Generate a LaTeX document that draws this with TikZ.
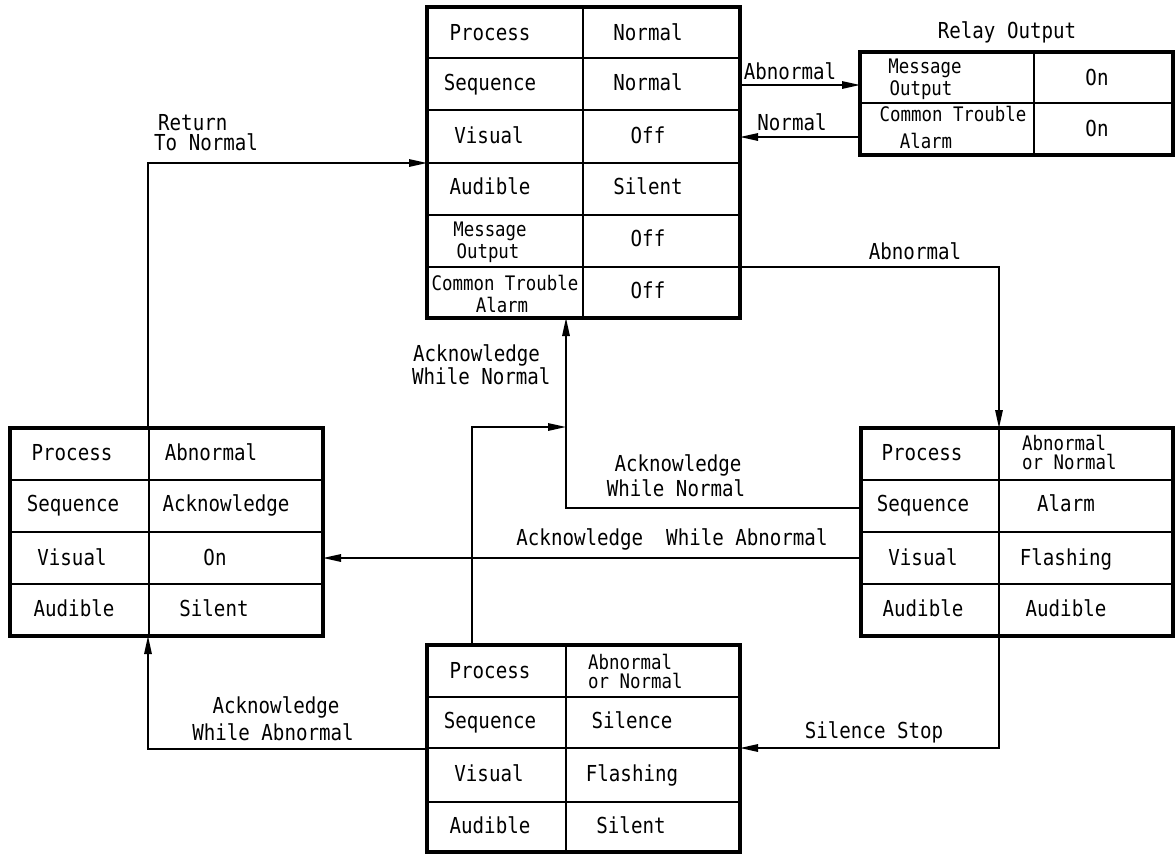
\documentclass[tikz,border=0pt]{standalone}
\usepackage{fontspec}
\setmainfont{DejaVu Sans Mono}[FakeStretch=0.87]
\usetikzlibrary{arrows.meta}
\begin{document}
\begin{tikzpicture}[x=1pt,y=-1pt,
  tbl/.style={draw, line width=3.4pt, inner sep=0pt, outer sep=0pt},
  cell/.style={line width=1.3pt},
  conn/.style={line width=1.5pt},
  arr/.style={conn, -{Triangle[length=18pt,width=7.5pt]}},
  t/.style={font=\fontsize{22}{22}\selectfont, inner sep=0pt, text height=16pt, text depth=0pt},
  ts/.style={font=\fontsize{20}{20}\selectfont, inner sep=0pt, text height=14.6pt, text depth=0pt}]
\useasboundingbox (0,0) rectangle (1176,855);

% ---------- inner grid lines ----------
\draw[cell] (583,7) -- (583,318);
\foreach \y in {58,110,163,215,267} \draw[cell] (427,\y) -- (740,\y);
\draw[cell] (1034,52) -- (1034,155);
\draw[cell] (860,103) -- (1173,103);
\draw[cell] (149,428) -- (149,636);
\foreach \y in {480,532,584} \draw[cell] (10,\y) -- (323,\y);
\draw[cell] (999,428) -- (999,636);
\foreach \y in {480,532,584} \draw[cell] (861,\y) -- (1173,\y);
\draw[cell] (566,645) -- (566,852);
\foreach \y in {697,748,802} \draw[cell] (427,\y) -- (740,\y);

% ---------- tables ----------
\node[tbl, minimum width=313pt, minimum height=311pt] (T) at (583.5,162.5) {};
\node[tbl, minimum width=313pt, minimum height=103pt] (R) at (1016.5,103.5) {};
\node[tbl, minimum width=313pt, minimum height=208pt] (L) at (166.5,532) {};
\node[tbl, minimum width=312pt, minimum height=208pt] (Rt) at (1017,532) {};
\node[tbl, minimum width=313pt, minimum height=207pt] (B) at (583.5,748.5) {};

% ---------- top table text ----------
\node[t] (t1a) at (490,32) {Process};
\node[t] (t1b) at (648,32) {Normal};
\node[t] (t2a) at (490,82) {Sequence};
\node[t] (t2b) at (648,82) {Normal};
\node[t] (t3a) at (489,135) {Visual};
\node[t] (t3b) at (648,135) {Off};
\node[t] (t4a) at (490,186) {Audible};
\node[t] (t4b) at (648,186) {Silent};
\node[ts] (t5a) at (490,229) {Message};
\node[ts] (t5c) at (488,251) {Output};
\node[t] (t5b) at (648,238) {Off};
\node[ts] (t6a) at (505,283) {Common Trouble};
\node[ts] (t6c) at (502,305) {Alarm};
\node[t] (t6b) at (648,290) {Off};

% ---------- relay table ----------
\node[t] (rtitle) at (1007,30) {Relay Output};
\node[ts] (r1a) at (925,66) {Message};
\node[ts] (r1c) at (921,88) {Output};
\node[t] (r1b) at (1097,77) {On};
\node[ts] (r2a) at (953,114) {Common Trouble};
\node[ts] (r2c) at (926,141) {Alarm};
\node[t] (r2b) at (1097,128) {On};

% ---------- left table ----------
\node[t] (l1a) at (72,452) {Process};
\node[t] (l1b) at (211,452) {Abnormal};
\node[t] (l2a) at (73,503) {Sequence};
\node[t] (l2b) at (226,503) {Acknowledge};
\node[t] (l3a) at (72,557) {Visual};
\node[t] (l3b) at (215,557) {On};
\node[t] (l4a) at (74,608) {Audible};
\node[t] (l4b) at (214,608) {Silent};

% ---------- right table ----------
\node[t] (q1a) at (922,452) {Process};
\node[ts, anchor=west] (q1b) at (1022,443) {Abnormal};
\node[ts, anchor=west] (q1c) at (1022,462) {or Normal};
\node[t] (q2a) at (923,503) {Sequence};
\node[t] (q2b) at (1066,503) {Alarm};
\node[t] (q3a) at (923,557) {Visual};
\node[t] (q3b) at (1066,557) {Flashing};
\node[t] (q4a) at (923,608) {Audible};
\node[t] (q4b) at (1066,608) {Audible};

% ---------- bottom table ----------
\node[t] (b1a) at (490,670) {Process};
\node[ts, anchor=west] (b1b) at (588,662) {Abnormal};
\node[ts, anchor=west] (b1c) at (588,681) {or Normal};
\node[t] (b2a) at (490,720) {Sequence};
\node[t] (b2b) at (632,720) {Silence};
\node[t] (b3a) at (489,773) {Visual};
\node[t] (b3b) at (632,773) {Flashing};
\node[t] (b4a) at (490,825) {Audible};
\node[t] (b4b) at (631,825) {Silent};

% ---------- helper coordinates ----------
\coordinate (yA) at (0,85);
\coordinate (yN) at (0,137);
\coordinate (k1) at (999,267);
\coordinate (k2) at (566,508);
\coordinate (k3) at (0,558);
\coordinate (k4) at (999,748);
\coordinate (k5) at (148,749);
\coordinate (k6) at (472,427);
\coordinate (k7) at (148,163);

% ---------- connectors ----------
\draw[arr] (T.east |- yA) -- (R.west |- yA);
\draw[arr] (R.west |- yN) -- (T.east |- yN);
\draw[arr] (T.east |- k1) -- (k1) -- (k1 |- Rt.north);
\draw[arr] (Rt.west |- k2) -- (k2) -- (k2 |- T.south);
\draw[arr] (Rt.west |- k3) -- (L.east |- k3);
\draw[arr] (k1 |- Rt.south) -- (k4) -- (B.east |- k4);
\draw[arr] (B.west |- k5) -- (k5) -- (k5 |- L.south);
\draw[arr] (k6 |- B.north) -- (k6) -- (k2 |- k6);
\draw[arr] (k7 |- L.north) -- (k7) -- (T.west |- k7);

% ---------- connector labels ----------
\node[t] (lab1) at (790,71) {Abnormal};
\node[t] (lab2) at (792,122) {Normal};
\node[t] (lab3) at (915,251) {Abnormal};
\node[t, anchor=west] (lab4a) at (158,122) {Return};
\node[t, anchor=west] (lab4b) at (154,142) {To Normal};
\node[t, anchor=west] (lab5a) at (413,353) {Acknowledge};
\node[t, anchor=west] (lab5b) at (412,376) {While Normal};
\node[t] (lab6a) at (678,463) {Acknowledge};
\node[t] (lab6b) at (676,488) {While Normal};
\node[t] (lab7) at (672,537) {Acknowledge\ \ While Abnormal};
\node[t] (lab8) at (874,730) {Silence Stop};
\node[t] (lab9a) at (276,705) {Acknowledge};
\node[t] (lab9b) at (273,732) {While Abnormal};
\end{tikzpicture}
\end{document}
